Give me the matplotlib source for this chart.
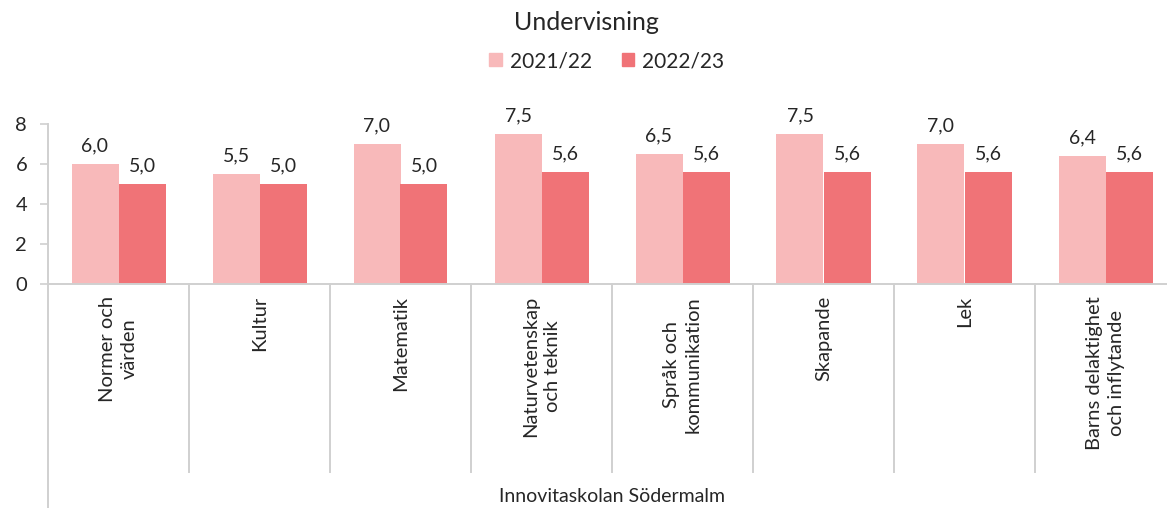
import numpy as np
import matplotlib.pyplot as plt
from matplotlib.patches import Patch

plt.rcParams['font.family'] = ['Lato', 'DejaVu Sans']

categories = ['Normer och\nvärden', 'Kultur', 'Matematik', 'Naturvetenskap\noch teknik',
              'Språk och\nkommunikation', 'Skapande', 'Lek', 'Barns delaktighet\noch inflytande']
series_names = ['2021/22', '2022/23']
values_2122 = [6.0, 5.5, 7.0, 7.5, 6.5, 7.5, 7.0, 6.4]
values_2223 = [5.0, 5.0, 5.0, 5.6, 5.6, 5.6, 5.6, 5.6]
group_label = 'Innovitaskolan Södermalm'
title = 'Undervisning'

colors = ['#F8B9BA', '#F07377']
axis_color = '#D0D0D0'
text_color = '#262626'

W, H = 1167, 508
fig = plt.figure(figsize=(W / 100, H / 100), dpi=100)
# axes runs a bit past the right edge, like the original which is clipped
ax = fig.add_axes([48 / W, (H - 284) / H, (1176 - 48) / W, 160 / H])

x = np.arange(len(categories))
bw = 1 / 3
for i, (vals, col) in enumerate(zip([values_2122, values_2223], colors)):
    pos = x + (i - 0.5) * bw
    ax.bar(pos, vals, width=bw, color=col, edgecolor='none')
    for p, v in zip(pos, vals):
        ax.annotate(f'{v:.1f}'.replace('.', ','), (p, v), xytext=(0, 7),
                    textcoords='offset points', ha='center', va='bottom',
                    fontsize=14, color=text_color)

ax.set_xlim(-0.5, len(categories) - 0.5)
ax.set_ylim(0, 8)
ax.set_yticks([0, 2, 4, 6, 8])
ax.tick_params(axis='y', length=6, width=1.2, color=axis_color, pad=9,
               labelsize=14.5, labelcolor=text_color)
ax.set_xticks([])

for s in ['top', 'right']:
    ax.spines[s].set_visible(False)
for s in ['left', 'bottom']:
    ax.spines[s].set_color(axis_color)
    ax.spines[s].set_linewidth(1.4)

# long separators between categories and extended left axis line
trans = ax.get_xaxis_transform()
for k in range(1, len(categories)):
    ax.plot([k - 0.5, k - 0.5], [0, -188 / 160], transform=trans, color=axis_color,
            lw=1.4, clip_on=False)
ax.plot([-0.5, -0.5], [0, -225 / 160], transform=trans, color=axis_color,
        lw=1.4, clip_on=False)

for k, lab in enumerate(categories):
    ax.text(k, -12 / 160, lab, transform=trans, rotation=90, ha='center', va='top',
            multialignment='center', fontsize=14.5, color=text_color, linespacing=1.3)

ax.text(3.5, -212 / 160, group_label, transform=trans, ha='center', va='center',
        fontsize=14, color=text_color)

fig.text(586 / W, 1 - 22 / H, title, ha='center', va='center', fontsize=18,
         color=text_color)
handles = [Patch(color=c) for c in colors]
fig.legend(handles, series_names, loc='center', bbox_to_anchor=(607 / W, 1 - 61 / H),
           ncol=2, frameon=False, fontsize=15, handlelength=0.6, handleheight=0.6,
           handletextpad=0.4, columnspacing=1.4, labelcolor=text_color)

fig.savefig('out.png', dpi=100)
